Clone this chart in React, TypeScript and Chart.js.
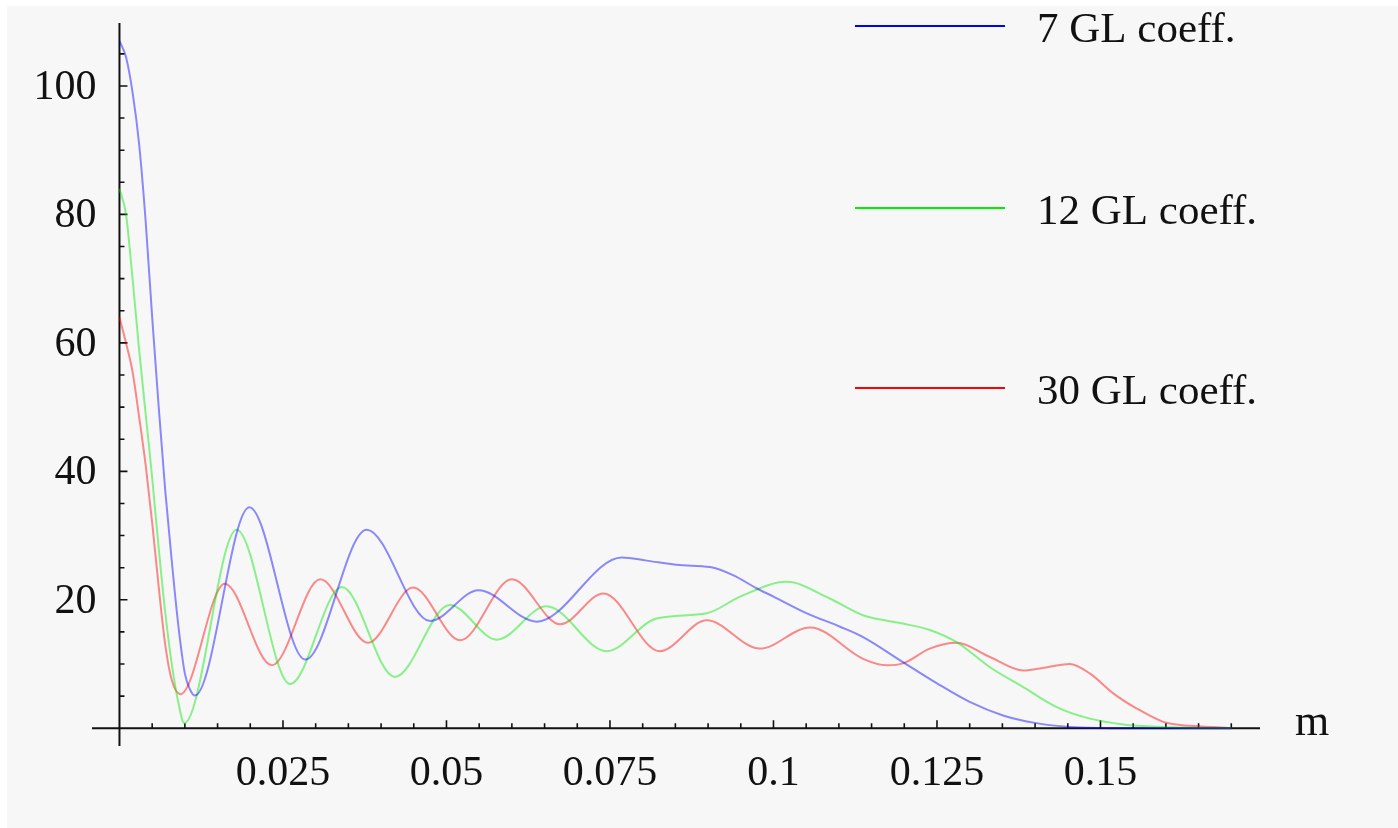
import React, { useEffect, useRef } from "react";
import { Chart, registerables } from "chart.js";
Chart.register(...registerables);

// ---- data ----
const seriesLabels = ["7 GL coeff.", "12 GL coeff.", "30 GL coeff."];

const blueX = [0, 0.001, 0.002, 0.003, 0.004, 0.005, 0.006, 0.007, 0.008, 0.009, 0.01, 0.0108, 0.01155, 0.01985, 0.0284, 0.0378, 0.0475, 0.0549, 0.0638, 0.0768, 0.0806, 0.0857, 0.0903, 0.0939, 0.0974, 0.1, 0.1051, 0.1102, 0.1137, 0.1198, 0.125, 0.13, 0.1351, 0.1402, 0.1453, 0.15, 0.16, 0.17];
const blueY = [107, 104.5, 99, 91, 79, 64, 50, 37, 26, 16, 8.5, 6, 5.1, 34.4, 10.7, 30.9, 16.7, 21.5, 16.6, 26.6, 26.1, 25.4, 25.1, 23.8, 21.8, 20.5, 17.9, 15.8, 14.2, 10.3, 7.0, 4.1, 2.0, 0.8, 0.2, 0.05, 0, 0];

const greenX = [0, 0.001, 0.002, 0.003, 0.004, 0.005, 0.006, 0.007, 0.008, 0.009, 0.0099, 0.0179, 0.0261, 0.034, 0.0421, 0.0505, 0.0577, 0.0653, 0.0745, 0.0821, 0.0898, 0.0949, 0.102, 0.1086, 0.1137, 0.1198, 0.1239, 0.128, 0.1331, 0.1382, 0.1433, 0.1484, 0.1535, 0.1596, 0.165, 0.17];
const greenY = [84, 80, 70, 59, 49, 39, 28, 18, 10, 4, 0.8, 30.9, 6.9, 22.0, 8.0, 19.2, 13.8, 19.0, 12.0, 17.1, 17.9, 20.5, 22.8, 20.2, 17.6, 16.3, 15.3, 13.4, 9.5, 6.4, 3.3, 1.5, 0.6, 0.2, 0.05, 0];

const redX = [0, 0.001, 0.002, 0.003, 0.004, 0.005, 0.006, 0.007, 0.008, 0.0093, 0.0161, 0.0233, 0.0307, 0.038, 0.0449, 0.0521, 0.06, 0.0674, 0.074, 0.0826, 0.0898, 0.0979, 0.1056, 0.1137, 0.1173, 0.1198, 0.1239, 0.128, 0.1331, 0.1382, 0.1407, 0.1453, 0.1484, 0.152, 0.1555, 0.1596, 0.1622, 0.1673, 0.17];
const redY = [64, 60, 55.5, 48.5, 41, 32, 22, 13, 7.5, 5.3, 22.5, 9.8, 23.2, 13.3, 21.9, 13.7, 23.2, 16.2, 21.0, 12.0, 16.8, 12.4, 15.7, 10.8, 9.8, 10.1, 12.4, 13.3, 11.1, 9.0, 9.3, 10.0, 8.5, 5.4, 3.1, 1.0, 0.5, 0.2, 0];

const xMajorTicks = [0.025, 0.05, 0.075, 0.1, 0.125, 0.15];
const xTickLabels = ["0.025", "0.05", "0.075", "0.1", "0.125", "0.15"];
const yMajorTicks = [20, 40, 60, 80, 100];
const yTickLabels = ["20", "40", "60", "80", "100"];
const xAxisTitle = "m";

const X_MIN = -0.0042;
const X_MAX = 0.17439;
const Y_MIN = -2.76;
const Y_MAX = 109.8;

const lineColors = ["rgba(0,0,255,0.45)", "rgba(0,230,0,0.45)", "rgba(255,0,0,0.45)"];
const legendColors = ["#0000ff", "#00ee00", "#ff0000"];

function toPoints(xs: number[], ys: number[]) {
  return xs.map((x, i) => ({ x, y: ys[i] }));
}

export default function App() {
  const ref = useRef<HTMLCanvasElement>(null);

  useEffect(() => {
    const canvas = ref.current;
    if (!canvas) return;

    const axesPlugin = {
      id: "mmaAxes",
      beforeDraw(chart: any) {
        const ctx = chart.ctx;
        ctx.save();
        ctx.fillStyle = "#f7f7f7";
        ctx.fillRect(0, 0, chart.width, chart.height);
        ctx.restore();
      },
      beforeDatasetsDraw(chart: any) {
        const ctx = chart.ctx;
        const xs = chart.scales.x;
        const ys = chart.scales.y;
        const area = chart.chartArea;
        const x0 = xs.getPixelForValue(0);
        const y0 = ys.getPixelForValue(0);
        ctx.save();
        ctx.strokeStyle = "#111";
        ctx.lineWidth = 2;
        ctx.beginPath();
        ctx.moveTo(area.left, y0);
        ctx.lineTo(area.right, y0);
        ctx.moveTo(x0, area.top);
        ctx.lineTo(x0, area.bottom);
        ctx.stroke();

        // ticks
        ctx.lineWidth = 1.6;
        ctx.beginPath();
        for (let i = 1; i <= 34; i++) {
          const v = i * 0.005;
          const major = i % 5 === 0;
          const px = xs.getPixelForValue(v);
          ctx.moveTo(px, y0);
          ctx.lineTo(px, y0 - (major ? 8 : 5));
        }
        for (let i = 1; i <= 21; i++) {
          const v = i * 5;
          const major = i % 4 === 0;
          const py = ys.getPixelForValue(v);
          ctx.moveTo(x0, py);
          ctx.lineTo(x0 + (major ? 8 : 5), py);
        }
        ctx.stroke();

        // labels
        ctx.fillStyle = "#111";
        ctx.font = '42px "Liberation Serif"';
        ctx.textBaseline = "alphabetic";
        ctx.textAlign = "center";
        xMajorTicks.forEach((v, i) => {
          ctx.fillText(xTickLabels[i], xs.getPixelForValue(v), y0 + 57);
        });
        ctx.textAlign = "right";
        yMajorTicks.forEach((v, i) => {
          ctx.fillText(yTickLabels[i], x0 - 23, ys.getPixelForValue(v) + 13);
        });
        ctx.textAlign = "left";
        ctx.font = '44px "Liberation Serif"';
        ctx.fillText(xAxisTitle, area.right + 35, y0 + 6.5);

        // legend
        const legendY = [20, 202, 382];
        ctx.font = '43px "Liberation Serif"';
        chart.data.datasets.forEach((ds: any, i: number) => {
          const ly = legendY[i];
          ctx.strokeStyle = legendColors[i];
          ctx.lineWidth = 2;
          ctx.beginPath();
          ctx.moveTo(848, ly);
          ctx.lineTo(998, ly);
          ctx.stroke();
          ctx.fillStyle = "#111";
          ctx.fillText(ds.label, 1030, ly + 15.5);
        });
        ctx.restore();
      },
    };

    const chart = new Chart(canvas, {
      type: "line",
      data: {
        datasets: [
          { label: seriesLabels[0], data: toPoints(blueX, blueY), borderColor: lineColors[0] },
          { label: seriesLabels[1], data: toPoints(greenX, greenY), borderColor: lineColors[1] },
          { label: seriesLabels[2], data: toPoints(redX, redY), borderColor: lineColors[2] },
        ],
      },
      options: {
        responsive: false,
        maintainAspectRatio: false,
        animation: false,
        layout: { padding: { left: 85, right: 138, top: 17, bottom: 82 } },
        elements: {
          point: { radius: 0, hoverRadius: 0 },
          line: { borderWidth: 2, cubicInterpolationMode: "monotone", fill: false },
        },
        scales: {
          x: { type: "linear", min: X_MIN, max: X_MAX, display: false },
          y: { type: "linear", min: Y_MIN, max: Y_MAX, display: false },
        },
        plugins: {
          legend: { display: false },
          tooltip: { enabled: false },
        },
      },
      plugins: [axesPlugin],
    } as any);

    return () => chart.destroy();
  }, []);

  return (
    <div style={{ position: "absolute", left: 0, top: 0, width: 1398, height: 828, background: "#ffffff", overflow: "hidden" }}>
      <canvas ref={ref} width={1391} height={822} style={{ position: "absolute", left: 7, top: 6, width: 1391, height: 822 }} />
    </div>
  );
}
